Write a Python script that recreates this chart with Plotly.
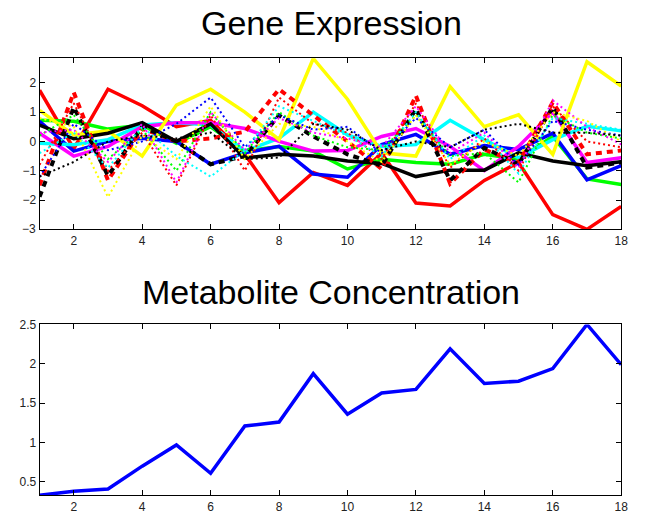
import plotly.graph_objects as go

x = list(range(1, 19))

# Gene expression: solid lines
red_solid = [1.75, -0.25, 1.78, 1.22, 0.5, 0.72, -0.44, -2.09, -1.06, -1.5, -0.4, -2.1, -2.2, -1.33, -0.72, -2.5, -3.0, -2.22]
green_solid = [0.72, 0.69, 0.42, 0.56, -0.06, 0.5, -0.33, -0.17, -0.33, -0.94, -0.61, -0.72, -0.78, -0.44, -0.61, 0.17, -1.28, -1.47]
blue_solid = [0.69, -0.33, 0.0, 0.11, 0.0, -0.78, -0.39, -0.17, -1.11, -1.22, -0.11, 0.24, -0.44, -0.14, -0.28, 0.28, -1.31, -0.83]
cyan_solid = [-0.06, -0.11, 0.06, 0.56, 0.64, 0.56, -0.33, 0.11, 1.0, 0.22, -0.17, -0.11, 0.72, 0.06, -0.56, 0.06, 0.52, 0.36]
magenta_solid = [0.28, -0.5, -0.17, 0.5, 0.64, 0.64, 0.44, 0.0, -0.33, -0.31, 0.17, 0.44, -0.17, -1.0, -0.17, 1.0, -0.72, -0.56]
yellow_solid = [1.06, 0.22, 0.36, -0.5, 1.24, 1.78, 1.0, 0.06, 2.83, 1.44, -0.39, -0.5, 1.87, 0.5, 0.91, -0.44, 2.72, 1.89]
black_solid = [0.56, 0.09, 0.28, 0.64, 0.0, 0.6, -0.56, -0.44, -0.5, -0.67, -0.75, -1.2, -0.98, -0.98, -0.39, -0.67, -0.83, -0.69]

# dashed lines
red_dashed = [-1.5, 1.67, -1.33, 0.44, 0.0, 0.1, 0.33, 1.78, 0.89, 0.0, -0.94, 1.56, -1.44, -0.28, -0.72, 1.33, -0.44, -0.31]
black_dashed = [-1.89, 1.17, -1.17, 0.5, 0.0, -0.78, -0.5, 0.89, 0.17, -0.44, -0.83, 1.11, -1.33, -0.22, -0.78, 1.17, -0.89, -0.72]

# dotted lines
red_dotted = [-0.8, 1.3, -1.0, 0.3, -1.5, 0.9, -1.0, 1.5, 0.6, 0.3, -0.6, 1.3, -0.9, 0.1, -1.0, 1.2, 0.0, -0.2]
green_dotted = [0.2, 0.9, -0.6, 0.4, -1.0, 1.0, -0.4, 1.0, 0.2, -0.2, -0.3, 0.9, -0.5, -0.4, -1.4, 0.9, 0.3, 0.1]
blue_dotted = [-1.2, 0.6, -0.3, 0.0, 0.6, 1.5, -0.2, 0.9, 0.4, 0.5, -0.4, 0.8, -0.2, 0.4, -0.8, 0.7, 0.4, 0.2]
cyan_dotted = [-0.4, 0.3, -0.9, 0.5, -0.5, -1.2, -0.3, 1.2, 0.7, 0.2, -0.5, 1.0, -0.6, 0.2, -1.1, 0.8, 0.6, 0.4]
magenta_dotted = [0.3, 0.4, -0.7, 0.6, -1.4, 1.0, -0.3, 0.8, 0.3, 0.1, -0.2, 1.2, -0.4, 0.3, -0.9, 1.4, 0.5, -0.1]
yellow_dotted = [0.8, 0.5, -1.9, 0.2, -0.6, 1.2, -0.6, 0.6, 0.5, 0.0, -0.7, 0.9, -0.8, 0.0, -0.5, 1.0, 0.7, 0.0]
black_dotted = [-1.2, -0.7, 0.0, 0.2, 0.1, 0.3, -0.6, -0.55, 0.6, 0.4, -0.3, 0.0, -0.2, 0.4, 0.6, 0.3, 0.3, 0.2]

metabolite = [0.33, 0.38, 0.41, 0.70, 0.97, 0.61, 1.21, 1.26, 1.875, 1.36, 1.63, 1.675, 2.19, 1.75, 1.78, 1.94, 2.5, 1.99]

x_ticks = [2, 4, 6, 8, 10, 12, 14, 16, 18]
y1_ticks = [-2, -1, 0, 1, 2]
y1_labels = ["\u22122", "\u22121", "0", "1", "2"]
y1_bottom_tick = -3
y1_bottom_label = "\u22123"
y2_ticks = [0.5, 1, 1.5, 2, 2.5]

RED, GREEN, BLUE, CYAN, MAG, YEL, BLK = "#FF0000", "#00FF00", "#0000FF", "#00FFFF", "#FF00FF", "#FFFF00", "#000000"

fig = go.Figure()

def add(y, color, dash="solid", width=3.5, axis=1):
    fig.add_trace(go.Scatter(
        x=x, y=y, mode="lines",
        line=dict(color=color, width=width, dash=dash),
        xaxis="x" if axis == 1 else "x2",
        yaxis="y" if axis == 1 else "y2",
        showlegend=False, hoverinfo="skip"))

for s, c in [(red_solid, RED), (green_solid, GREEN), (blue_solid, BLUE), (cyan_solid, CYAN),
             (magenta_solid, MAG), (yellow_solid, YEL), (black_solid, BLK)]:
    add(s, c)
for s, c in [(red_dashed, RED), (black_dashed, BLK)]:
    add(s, c, dash="6px,5px", width=4)
for s, c in [(red_dotted, RED), (green_dotted, GREEN), (blue_dotted, BLUE), (cyan_dotted, CYAN),
             (magenta_dotted, MAG), (yellow_dotted, YEL), (black_dotted, BLK)]:
    add(s, c, dash="2px,3px", width=2)

add(metabolite, BLUE, axis=2, width=3.5)

W, H = 645, 514
FONT = "Liberation Sans, Arial, Helvetica, sans-serif"
xd = [40 / W, 628 / W]
axis_common = dict(
    showline=True, linecolor="black", linewidth=1, mirror="ticks",
    ticks="inside", ticklen=5, tickcolor="black", showgrid=False, zeroline=False,
    ticklabeloverflow="allow",
    tickfont=dict(family=FONT, size=12, color="#222"),
)

fig.update_layout(
    width=W, height=H,
    margin=dict(l=0, r=0, t=0, b=0),
    paper_bgcolor="white", plot_bgcolor="white",
    xaxis=dict(domain=xd, range=[1, 18], tickvals=x_ticks, anchor="y", **axis_common),
    yaxis=dict(domain=[1 - 226 / H, 1 - 52 / H], range=[-3.005, 2.84], tickvals=y1_ticks,
               ticktext=y1_labels, anchor="x", **axis_common),
    xaxis2=dict(domain=xd, range=[1, 18], tickvals=x_ticks, anchor="y2", **axis_common),
    yaxis2=dict(domain=[1 - 496 / H, 1 - 322.5 / H], range=[0.33, 2.5], tickvals=y2_ticks, anchor="x2", **axis_common),
    annotations=[
        dict(text="Gene Expression", x=335 / W, y=1 - 16 / H, xref="paper", yref="paper",
             showarrow=False, xanchor="center", yanchor="middle",
             font=dict(family=FONT, size=34, color="black")),
        dict(text="Metabolite Concentration", x=335 / W, y=1 - 290 / H, xref="paper", yref="paper",
             showarrow=False, xanchor="center", yanchor="middle",
             font=dict(family=FONT, size=34, color="black")),
        dict(text=y1_bottom_label, x=40 / W, y=y1_bottom_tick, xref="paper", yref="y",
             showarrow=False, xanchor="right", yanchor="middle", xshift=-2,
             font=dict(family=FONT, size=12, color="#222")),
    ],
)

fig.write_html("out.html", config={"displayModeBar": False},
               post_script="document.body.style.margin='0px';document.body.style.overflow='hidden';")
